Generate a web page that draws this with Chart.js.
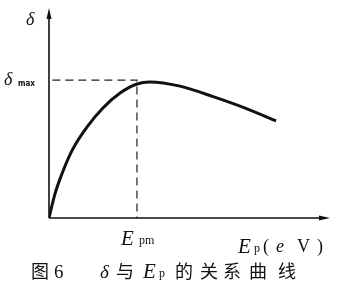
<!DOCTYPE html>
<html>
<head>
<meta charset="utf-8">
<script src="https://cdn.jsdelivr.net/npm/chart.js@4.4.1/dist/chart.umd.min.js"></script>
<style>
  html, body { margin: 0; padding: 0; background: #fff; }
  #wrap { position: relative; width: 339px; height: 300px; }
</style>
</head>
<body>
<div id="wrap"><canvas id="curveChart" width="339" height="300"></canvas></div>
<script>
// Data (satuan sembarang)
const epValues = [0, 0.21, 0.5, 0.85, 1.35, 1.92, 2.53, 3.13, 3.59, 4.66, 5.84, 7.05, 8.08];
const deltaValues = [0, 1.14, 2.24, 3.29, 4.33, 5.24, 5.95, 6.38, 6.48, 6.28, 5.78, 5.2, 4.62];
const epm = 3.13;
const deltaMax = 6.57;
const axisRange = [0, 10];

const curvePoints = epValues.map((x, i) => ({ x: x, y: deltaValues[i] }));
const guidePoints = [{ x: 0.12, y: deltaMax }, { x: epm, y: deltaMax }, { x: epm, y: 0 }];

const serif = "'Liberation Serif', 'DejaVu Serif', serif";
const cjk = "'Noto Sans CJK SC', sans-serif";

// Plugin untuk sumbu, panah dan teks
const axisPlugin = {
  id: "axisPlugin",
  afterDraw(chart) {
    const ctx = chart.ctx;
    const xs = chart.scales.x;
    const ys = chart.scales.y;
    const x0 = xs.getPixelForValue(0);
    const y0 = ys.getPixelForValue(0);
    const xEnd = xs.getPixelForValue(axisRange[1]);
    const yEnd = ys.getPixelForValue(axisRange[1]);

    ctx.save();
    ctx.strokeStyle = "#111";
    ctx.fillStyle = "#111";
    ctx.lineWidth = 1.6;
    ctx.beginPath();
    ctx.moveTo(x0, y0);
    ctx.lineTo(x0, yEnd + 6);
    ctx.moveTo(x0, y0);
    ctx.lineTo(xEnd - 6, y0);
    ctx.stroke();

    // panah atas
    ctx.beginPath();
    ctx.moveTo(x0, yEnd);
    ctx.lineTo(x0 - 2.5, yEnd + 11);
    ctx.lineTo(x0 + 2.5, yEnd + 11);
    ctx.closePath();
    ctx.fill();
    // panah kanan
    ctx.beginPath();
    ctx.moveTo(xEnd, y0);
    ctx.lineTo(xEnd - 11, y0 - 2.5);
    ctx.lineTo(xEnd - 11, y0 + 2.5);
    ctx.closePath();
    ctx.fill();

    ctx.textBaseline = "alphabetic";

    // delta di ujung sumbu y
    ctx.font = "italic 18px " + serif;
    ctx.fillText("δ", 26, 25);

    // delta max
    const yMax = ys.getPixelForValue(deltaMax);
    ctx.font = "italic 18px " + serif;
    ctx.fillText("δ", 4, yMax + 5);
    ctx.font = "bold 8px 'DejaVu Sans Condensed', 'DejaVu Sans', sans-serif";
    ctx.fillText("max", 18, yMax + 6);

    // Epm
    const xEpm = xs.getPixelForValue(epm);
    ctx.font = "italic 21px " + serif;
    ctx.fillText("E", xEpm - 16, 245);
    ctx.font = "12px " + serif;
    ctx.fillText("pm", xEpm + 2, 244);

    // Ep (eV)
    ctx.font = "italic 21px " + serif;
    ctx.fillText("E", 238, 253);
    ctx.font = "12px " + serif;
    ctx.fillText("p", 254, 252);
    ctx.font = "18px " + serif;
    ctx.fillText("(", 263, 252);
    ctx.font = "italic 18px " + serif;
    ctx.fillText("e", 276, 252);
    ctx.font = "18px " + serif;
    ctx.fillText("V", 297, 252);
    ctx.fillText(")", 317, 252);

    // judul gambar
    const capY = 278;
    ctx.font = "18px " + cjk;
    ctx.fillText("图", 31, capY);
    ctx.font = "19px " + serif;
    ctx.fillText("6", 54, capY);
    ctx.font = "italic 19px " + serif;
    ctx.fillText("δ", 100, capY);
    ctx.font = "18px " + cjk;
    ctx.fillText("与", 116, capY);
    ctx.font = "italic 21px " + serif;
    ctx.fillText("E", 143, capY);
    ctx.font = "12px " + serif;
    ctx.fillText("p", 159, capY - 1);
    ctx.font = "18px " + cjk;
    ctx.fillText("的", 175, capY);
    ctx.fillText("关", 200, capY);
    ctx.fillText("系", 223, capY);
    ctx.fillText("曲", 249, capY);
    ctx.fillText("线", 278, capY);
    ctx.restore();
  }
};

new Chart(document.getElementById("curveChart"), {
  type: "scatter",
  data: {
    datasets: [
      {
        data: curvePoints,
        showLine: true,
        borderColor: "#111",
        borderWidth: 3,
        pointRadius: 0,
        cubicInterpolationMode: "monotone",
        fill: false
      },
      {
        data: guidePoints,
        showLine: true,
        borderColor: "#222",
        borderWidth: 1.2,
        borderDash: [8, 5],
        pointRadius: 0,
        tension: 0,
        fill: false
      }
    ]
  },
  options: {
    responsive: false,
    animation: false,
    layout: { padding: { left: 49, right: 9, top: 8, bottom: 82 } },
    plugins: { legend: { display: false }, tooltip: { enabled: false } },
    scales: {
      x: { type: "linear", min: axisRange[0], max: axisRange[1], display: false },
      y: { type: "linear", min: axisRange[0], max: axisRange[1], display: false }
    }
  },
  plugins: [axisPlugin]
});
</script>
</body>
</html>
